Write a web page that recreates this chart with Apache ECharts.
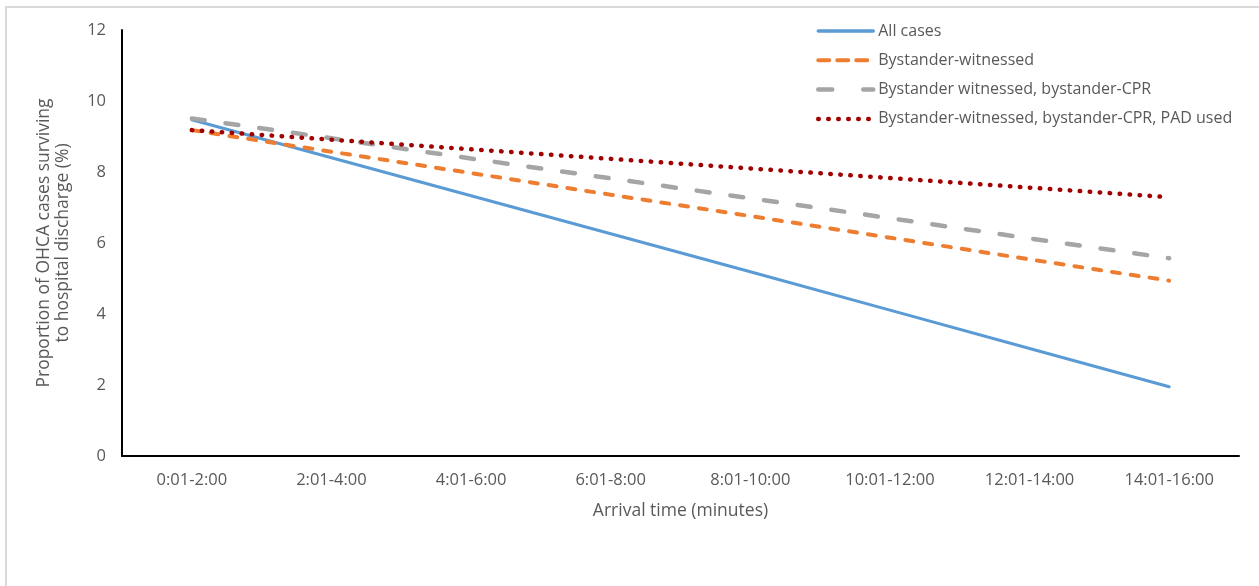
<!DOCTYPE html>
<html>
<head>
<meta charset="utf-8">
<script src="https://cdn.jsdelivr.net/npm/echarts@6/dist/echarts.min.js"></script>
<style>
  html, body { margin: 0; padding: 0; background: #fff; }
  #chart { width: 1259px; height: 586px; }
</style>
</head>
<body>
<div id="chart"></div>
<script>
// Arrival-time bands (minutes)
const categories = ['0:01-2:00', '2:01-4:00', '4:01-6:00', '6:01-8:00', '8:01-10:00', '10:01-12:00', '12:01-14:00', '14:01-16:00'];

// Survival to hospital discharge (%)
const allCases = [9.47, 8.40, 7.33, 6.26, 5.19, 4.11, 3.03, 1.95];
const bystanderWitnessed = [9.18, 8.57, 7.97, 7.36, 6.76, 6.15, 5.54, 4.94];
const witnessedCpr = [9.51, 8.95, 8.38, 7.82, 7.26, 6.70, 6.13, 5.57];
const witnessedCprPad = [9.18, 8.91, 8.64, 8.37, 8.10, 7.83, 7.56, 7.29];

const seriesNames = ['All cases', 'Bystander-witnessed', 'Bystander witnessed, bystander-CPR', 'Bystander-witnessed, bystander-CPR, PAD used'];

const yTicks = { min: 0, max: 12, interval: 2 };

const FONT = '"Open Sans", "Noto Sans", sans-serif';
const TEXT = '#595959';

// Stroke styles shared by the plotted lines and their legend keys
const styles = [
  { color: '#5B9BD5', width: 3.5, type: 'solid', legendType: 'solid' },
  { color: '#ED7D31', width: 4, type: [8, 11], legendType: [11, 8] },
  { color: '#A5A5A5', width: 4.5, type: [13, 21], legendType: [14, 31] },
  { color: '#A00000', width: 4.5, type: [0.5, 9.5], legendType: [0.5, 9.5] }
];

const chart = echarts.init(document.getElementById('chart'));

function lineSeries(i, data) {
  const s = styles[i];
  return {
    name: seriesNames[i],
    type: 'line',
    data: data,
    symbol: 'none',
    silent: true,
    lineStyle: { color: s.color, width: i === 0 ? 3 : s.width, type: s.type, cap: 'round' },
    itemStyle: { color: s.color }
  };
}

chart.setOption({
  animation: false,
  backgroundColor: '#ffffff',
  graphic: [{
    type: 'rect',
    shape: { x: 6, y: 7, width: 1400, height: 800 },
    style: { fill: 'none', stroke: '#d9d9d9', lineWidth: 2 },
    silent: true
  }],
  grid: { left: 122, right: 20, top: 30, bottom: 130 },
  legend: {
    orient: 'vertical',
    left: 811,
    top: 18,
    itemWidth: 55,
    itemHeight: 14,
    itemGap: 13.3,
    itemStyle: { opacity: 0 },
    textStyle: { color: TEXT, fontFamily: FONT, fontSize: 16 },
    data: seriesNames.map((name, i) => ({
      name: name,
      lineStyle: {
        color: styles[i].color,
        width: styles[i].width,
        type: styles[i].legendType,
        cap: 'round'
      }
    }))
  },
  xAxis: {
    type: 'category',
    data: categories,
    boundaryGap: true,
    name: 'Arrival time (minutes)',
    nameLocation: 'middle',
    nameGap: 46,
    nameTextStyle: { color: TEXT, fontFamily: FONT, fontSize: 17.5 },
    axisLine: { lineStyle: { color: '#000000', width: 2 } },
    axisTick: { show: false },
    axisLabel: { color: TEXT, fontFamily: FONT, fontSize: 16.5, margin: 16 }
  },
  yAxis: {
    type: 'value',
    min: yTicks.min,
    max: yTicks.max,
    interval: yTicks.interval,
    name: 'Proportion of OHCA cases surviving\nto hospital discharge (%)',
    nameLocation: 'middle',
    nameGap: 49,
    nameTextStyle: { color: TEXT, fontFamily: FONT, fontSize: 17.5, lineHeight: 19 },
    axisLine: { show: true, lineStyle: { color: '#000000', width: 2 } },
    axisTick: { show: false },
    splitLine: { show: false },
    axisLabel: { color: TEXT, fontFamily: FONT, fontSize: 16.5, margin: 16 }
  },
  series: [
    lineSeries(0, allCases),
    lineSeries(1, bystanderWitnessed),
    lineSeries(2, witnessedCpr),
    lineSeries(3, witnessedCprPad)
  ]
});
</script>
</body>
</html>
